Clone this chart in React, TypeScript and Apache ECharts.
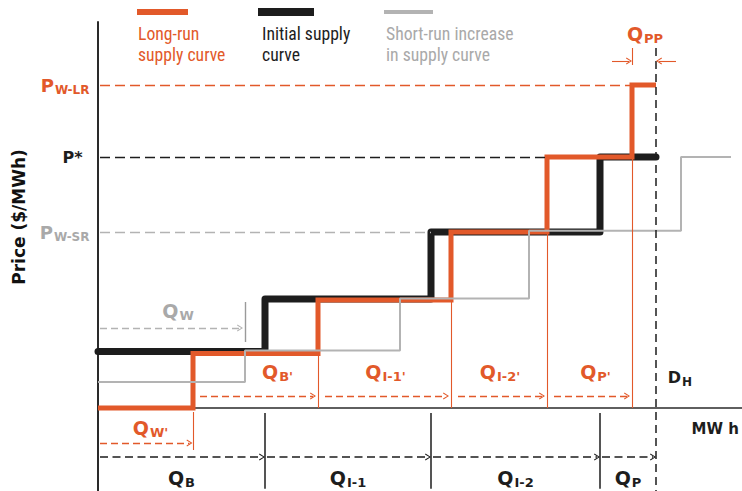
import React, { useEffect, useRef } from "react";
import * as echarts from "echarts";

// ---------- data ----------
// Quantity (MWh) at which each step of a supply curve starts; the last value is where it ends
const initialBreaks = [0, 33.4, 66.6, 100.4, 111.6];
const initialPrices = [14.1, 27.25, 44, 62.75];
const longRunBreaks = [0, 19, 44, 70.6, 89.8, 106.8, 111.6];
const longRunPrices = [0, 13.6, 27, 44, 62.75, 80.75];
const shortRunBreaks = [0, 29.4, 60.4, 86.2, 116.6, 126.6];
const shortRunPrices = [6.5, 14.4, 27.4, 44.3, 62.75];

// Price markers on the vertical axis
const priceNames = ["W-LR", "*", "W-SR"];
const priceValues = [80.75, 62.75, 44];

// Quantity segment labels
const initialSegments = ["B", "I-1", "I-2", "P"];
const longRunSegments = ["B'", "I-1'", "I-2'", "P'"];
const demandQuantity = 111.6; // D_H

// ---------- layout ----------
const X_MAX = 128.8;
const Y_MIN = -20.75;
const Y_MAX = 96.5;

const ORANGE = "#e2592a";
const BLACK = "#1d1d1d";
const GREY = "#b3b3b3";
const GREY_TEXT = "#a9a9a9";
const NARROW = "'Liberation Sans Narrow', 'Roboto Condensed', Roboto, 'Noto Sans', sans-serif";
const BOLD = "'DejaVu Sans', Verdana, sans-serif";

const CHEVRON = "path://M0,10L5,0L10,10L8.6,10.9L5,3.2L1.4,10.9Z";

const steps = (b: number[], p: number[]) => [
  ...p.map((v, i) => [b[i], v]),
  [b[b.length - 1], p[p.length - 1]],
];

const seg = (
  x0: number, y0: number, x1: number, y1: number,
  color: string, width: number, type: any, arrow = false
) => [
  { coord: [x0, y0], symbol: "none", lineStyle: { color, width, type } },
  { coord: [x1, y1], symbol: arrow ? CHEVRON : "none", symbolSize: [7, 6] },
];

const rich = (color: string, main = 19, sub = 13, family = BOLD) => ({
  m: { fontFamily: family, fontWeight: "bold", fontSize: main, color },
  s: { fontFamily: family, fontWeight: "bold", fontSize: sub, color, padding: [9, 0, 0, 1] },
});

const lbl = (
  x: number, y: number, text: string, r: any,
  position: any = "inside", distance = 0
) => ({
  coord: [x, y],
  symbol: "circle",
  symbolSize: 1,
  itemStyle: { color: "rgba(0,0,0,0)" },
  label: { show: true, position, distance, formatter: () => text, rich: r },
});

const legendText = (x: number, text: string, fill: string) => ({
  type: "text", x, y: 23, scaleX: 0.93,
  style: { text, fontFamily: NARROW, fontSize: 19, lineHeight: 21, fill },
});

function buildOption() {
  const lines: any[] = [];
  // price guide lines
  lines.push(seg(0.4, priceValues[0], longRunBreaks[5], priceValues[0], ORANGE, 1.4, [10, 5]));
  lines.push(seg(0.4, priceValues[1], longRunBreaks[4], priceValues[1], BLACK, 1.4, [10, 5]));
  lines.push(seg(0.4, priceValues[2], initialBreaks[2], priceValues[2], GREY, 1.4, [10, 5]));
  // demand line D_H
  lines.push(seg(demandQuantity, 90, demandQuantity, Y_MIN, BLACK, 1.5, [8, 5]));
  // thin orange guides down from the long-run steps
  lines.push(seg(longRunBreaks[1], -1, longRunBreaks[1], -10.5, ORANGE, 1.1, "solid"));
  for (let i = 2; i <= 5; i++) {
    lines.push(seg(longRunBreaks[i], longRunPrices[i - 1], longRunBreaks[i], 0, ORANGE, 1.1, "solid"));
  }
  lines.push(seg(longRunBreaks[5], 85.75, longRunBreaks[5], 90, ORANGE, 1.1, "solid"));
  // black ticks below axis
  for (let i = 1; i <= 3; i++) {
    lines.push(seg(initialBreaks[i], -1.25, initialBreaks[i], -20.2, BLACK, 1.5, "solid"));
  }
  // grey tick
  lines.push(seg(shortRunBreaks[1], 16.5, shortRunBreaks[1], 26.5, "#9a9a9a", 1.4, "solid"));
  // arrows
  lines.push(seg(0.4, 20, shortRunBreaks[1] - 1.0, 20, GREY, 1.3, [7, 4], true));
  lines.push(seg(0.4, -8.75, longRunBreaks[1] - 0.7, -8.75, ORANGE, 1.3, [7, 4], true));
  for (let i = 1; i <= 4; i++) {
    lines.push(seg(longRunBreaks[i] + 1.4, 3, longRunBreaks[i + 1] - 1.0, 3, ORANGE, 1.3, [7, 4], true));
  }
  for (let i = 0; i <= 3; i++) {
    lines.push(seg(initialBreaks[i] + 0.4, -12.25, initialBreaks[i + 1] - 0.6, -12.25, BLACK, 1.5, [8, 4.5], true));
  }
  lines.push(seg(longRunBreaks[5] - 4, 86.75, longRunBreaks[5] - 0.6, 86.75, ORANGE, 1.1, "solid", true));
  lines.push(seg(demandQuantity + 4, 86.75, demandQuantity + 0.6, 86.75, ORANGE, 1.1, "solid", true));

  const labels: any[] = [];
  const priceColors = [ORANGE, BLACK, GREY_TEXT];
  priceNames.forEach((n, i) => {
    if (n === "*") {
      labels.push(lbl(0, priceValues[i], "{m|P*}", rich(BLACK, 16), "left", 15));
    } else {
      labels.push(lbl(0, priceValues[i], `{m|P}{s|${n}}`, rich(priceColors[i], 18, 12), "left", 8));
    }
  });
  labels.push(lbl(16, 24.25, "{m|Q}{s|W}", rich(GREY_TEXT)));
  labels.push(lbl(10.5, -5, "{m|Q}{s|W'}", rich(ORANGE)));
  const longRunOffsets = [4.2, 0, 0, 1];
  longRunSegments.forEach((n, i) => {
    const a = longRunBreaks[i + 1] + 1.4;
    const b = longRunBreaks[i + 2] - 1.0;
    labels.push(lbl((a + b) / 2 + longRunOffsets[i], 9, `{m|Q}{s|${n}}`, rich(ORANGE)));
  });
  initialSegments.forEach((n, i) => {
    labels.push(lbl((initialBreaks[i] + initialBreaks[i + 1]) / 2, -17.5, `{m|Q}{s|${n}}`, rich(BLACK)));
  });
  labels.push(lbl(109.4, 93.4, "{m|Q}{s|PP}", rich(ORANGE)));
  labels.push(lbl(116.4, 7.75, "{m|D}{s|H}", rich(BLACK, 16, 12)));
  labels.push(lbl(118.6, -5.25, "{m|MW h}", rich(BLACK, 15), "right", 0));

  return {
    animation: false,
    backgroundColor: "#ffffff",
    grid: { left: 98, right: 0, top: 22, bottom: 0 },
    xAxis: {
      type: "value", min: 0, max: X_MAX,
      axisLine: { show: true, onZero: true, lineStyle: { color: "#2a2a2a", width: 1.5 } },
      axisTick: { show: false }, axisLabel: { show: false }, splitLine: { show: false },
    },
    yAxis: {
      type: "value", min: Y_MIN, max: Y_MAX,
      axisLine: { show: true, lineStyle: { color: "#2a2a2a", width: 2 } },
      axisTick: { show: false }, axisLabel: { show: false }, splitLine: { show: false },
    },
    series: [
      {
        name: "Initial supply curve", type: "line", step: "end", clip: false,
        data: steps(initialBreaks, initialPrices), symbol: "none",
        lineStyle: { color: BLACK, width: 7, cap: "round", join: "round" },
      },
      {
        name: "Long-run supply curve", type: "line", step: "end", clip: false,
        data: steps(longRunBreaks, longRunPrices), symbol: "none",
        lineStyle: { color: ORANGE, width: 5, cap: "butt", join: "miter" },
      },
      {
        name: "Short-run increase in supply curve", type: "line", step: "end", clip: false,
        data: steps(shortRunBreaks, shortRunPrices), symbol: "none",
        lineStyle: { color: GREY, width: 2 },
      },
      {
        name: "annotations", type: "line", data: [], silent: true,
        markLine: {
          silent: true, animation: false, symbol: ["none", "none"],
          label: { show: false }, emphasis: { disabled: true },
          data: lines,
        },
        markPoint: { silent: true, animation: false, data: labels },
      },
    ],
    graphic: [
      { type: "rect", shape: { x: 137, y: 9, width: 51, height: 6 }, style: { fill: ORANGE } },
      legendText(138, "Long-run\nsupply curve", ORANGE),
      { type: "rect", shape: { x: 258, y: 8, width: 56, height: 8 }, style: { fill: BLACK } },
      legendText(262, "Initial supply\ncurve", BLACK),
      { type: "rect", shape: { x: 384, y: 10, width: 49, height: 4 }, style: { fill: GREY } },
      legendText(386, "Short-run increase\nin supply curve", GREY_TEXT),
      {
        type: "text", x: 19, y: 217, rotation: Math.PI / 2,
        style: { text: "Price ($/MWh)", fontFamily: BOLD, fontWeight: "bold", fontSize: 17, fill: "#111", align: "center", verticalAlign: "middle" },
      },
    ],
  };
}

export default function App() {
  const ref = useRef<HTMLDivElement>(null);
  useEffect(() => {
    if (!ref.current) return;
    const chart = echarts.init(ref.current, undefined, { renderer: "svg" });
    chart.setOption(buildOption() as any);
    return () => chart.dispose();
  }, []);
  return (
    <div
      ref={ref}
      style={{ position: "fixed", left: 0, top: 0, width: 742, height: 491, background: "#fff" }}
    />
  );
}
